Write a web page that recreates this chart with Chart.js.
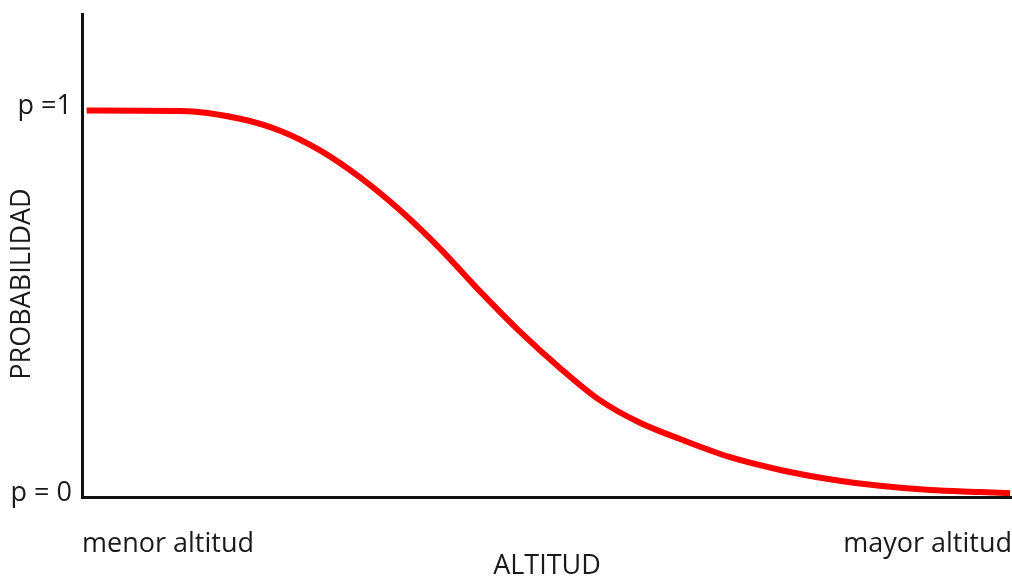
<!DOCTYPE html>
<html lang="es">
<head>
  <meta charset="UTF-8">
  <title>Probabilidad vs altitud</title>
  <script src="https://cdn.jsdelivr.net/npm/chart.js"></script>
  <style>
    html, body { margin: 0; padding: 0; background: #fff; }
    .wrap { width: 1012px; height: 579px; position: relative; }
  </style>
</head>
<body>
  <div class="wrap"><canvas id="chart"></canvas></div>
  <script>
    // curve (x: 0..100 along the axis, y: probability)
    const altitud = [0.5, 10.5, 17, 21.3, 25.6, 29.9, 34.2, 38.5, 42.8, 47, 51.3, 55.6, 60, 64.3, 69.7, 75.1, 80.4, 85.8, 91.2, 96.6, 99.8];
    const probabilidad = [1.0, 0.999, 0.979, 0.948, 0.897, 0.827, 0.742, 0.643, 0.532, 0.430, 0.336, 0.252, 0.192, 0.150, 0.103, 0.070, 0.046, 0.029, 0.018, 0.013, 0.010];

    const yTicks = [0, 1];
    const yTickLabels = ['p = 0', 'p =1'];
    const xTicks = [0, 100];
    const xTickLabels = ['menor altitud', 'mayor altitud'];

    const FONT = '"Open Sans", sans-serif';
    const SIZE = 27;
    const INK = '#1a1a1a';

    // y title sits a bit below the middle of the axis in the original
    const yTitle = {
      id: 'yTitle',
      afterDraw(chart) {
        const { ctx, chartArea } = chart;
        ctx.save();
        ctx.font = SIZE + 'px ' + FONT;
        ctx.fillStyle = INK;
        ctx.textAlign = 'center';
        ctx.textBaseline = 'middle';
        ctx.translate(22, chartArea.top + (chartArea.bottom - chartArea.top) * 0.559);
        ctx.rotate(-Math.PI / 2);
        ctx.fillText('PROBABILIDAD', 0, 0);
        ctx.restore();
      }
    };

    new Chart(document.getElementById('chart'), {
      type: 'line',
      data: {
        datasets: [{
          data: altitud.map((x, i) => ({ x: x, y: probabilidad[i] })),
          borderColor: 'rgb(255, 0, 0)',
          borderWidth: 6,
          pointRadius: 0,
          cubicInterpolationMode: 'monotone',
          fill: false
        }]
      },
      options: {
        responsive: true,
        maintainAspectRatio: false,
        animation: false,
        layout: { padding: { top: 14, right: 0, left: 0, bottom: 0 } },
        plugins: { legend: { display: false }, tooltip: { enabled: false } },
        scales: {
          x: {
            type: 'linear',
            min: 0,
            max: 100,
            afterBuildTicks: (s) => { s.ticks = xTicks.map(v => ({ value: v })); },
            afterFit: (s) => { s.height = 82; s.paddingLeft = 0; s.paddingRight = 0; },
            grid: { display: false, drawTicks: false },
            border: { display: true, color: '#111', width: 3 },
            ticks: {
              align: 'inner',
              padding: 31,
              maxRotation: 0,
              autoSkip: false,
              color: INK,
              font: { family: FONT, size: SIZE },
              callback: (v) => xTickLabels[xTicks.indexOf(v)]
            },
            title: {
              display: true,
              text: 'ALTITUD',
              color: INK,
              font: { family: FONT, size: SIZE },
              padding: { top: 0, bottom: -4 }
            }
          },
          y: {
            min: 0,
            max: 1.25,
            afterBuildTicks: (s) => { s.ticks = yTicks.map(v => ({ value: v })); },
            afterFit: (s) => { s.width = 82; s.paddingTop = 0; s.paddingBottom = 0; },
            grid: { display: false, drawTicks: false },
            border: { display: true, color: '#111', width: 3 },
            ticks: {
              padding: 10,
              labelOffset: -4,
              color: INK,
              font: { family: FONT, size: SIZE },
              callback: (v) => yTickLabels[yTicks.indexOf(v)]
            }
          }
        }
      },
      plugins: [yTitle]
    });
  </script>
</body>
</html>
